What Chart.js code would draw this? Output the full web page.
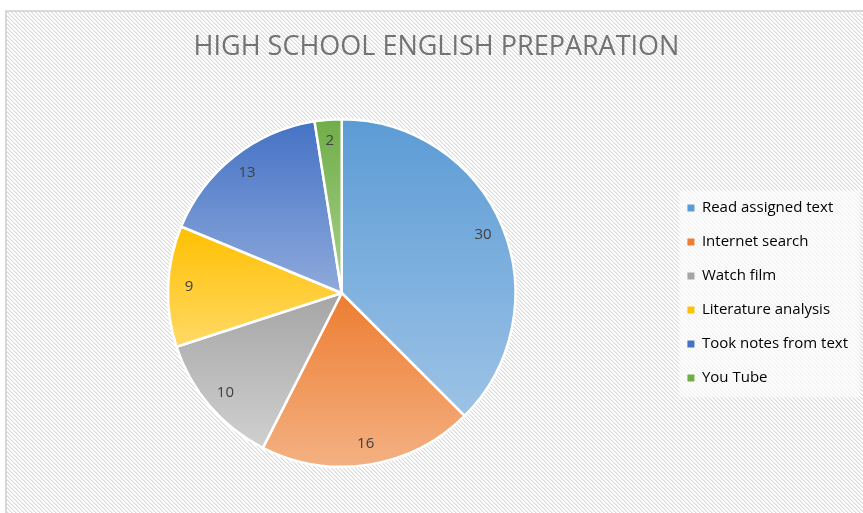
<!DOCTYPE html>
<html>
<head>
<meta charset="utf-8">
<script src="https://cdn.jsdelivr.net/npm/chart.js@4"></script>
<style>
  html, body { margin: 0; padding: 0; background: #fff; }
  #wrap {
    position: absolute; left: 5px; top: 10px; width: 870px; height: 520px;
    border: 2px solid #d9d9d9; box-sizing: border-box; background-color: #fff;
  }
  #box { position: absolute; left: 0; top: 0; width: 863px; height: 513px; }
</style>
</head>
<body>
<div id="wrap"></div>
<div id="box"><canvas id="pie" width="863" height="513"></canvas></div>
<script>
// chart data
var labels = ['Read assigned text', 'Internet search', 'Watch film', 'Literature analysis', 'Took notes from text', 'You Tube'];
var values = [30, 16, 10, 9, 13, 2];
var topColors = ['#5B9BD5', '#ED7D31', '#A5A5A5', '#FFC000', '#4472C4', '#70AD47'];
var bottomColors = ['#9DC3E6', '#F4B183', '#D0D0D0', '#FFD966', '#8FAADC', '#A9D18E'];

var total = values.reduce(function (a, b) { return a + b; }, 0);

// fine diagonal hatch for the chart background
var tile = document.createElement('canvas');
tile.width = 4; tile.height = 4;
var tctx = tile.getContext('2d');
tctx.fillStyle = '#ffffff';
tctx.fillRect(0, 0, 4, 4);
for (var p = 0; p < 4; p++) {
  tctx.fillStyle = '#dadada';
  tctx.fillRect(p, p, 1, 1);
  tctx.fillStyle = '#eeeeee';
  tctx.fillRect((p + 1) % 4, p, 1, 1);
}
document.getElementById('wrap').style.backgroundImage = 'url(' + tile.toDataURL() + ')';

// vertical gradient over each slice, darker at its top
function sliceFill(context) {
  var chart = context.chart;
  var area = chart.chartArea;
  var i = context.dataIndex;
  if (!area || i === undefined) return topColors[i || 0];
  var cx = (area.left + area.right) / 2;
  var cy = (area.top + area.bottom) / 2;
  var r = Math.min(area.right - area.left, area.bottom - area.top) / 2;
  var before = 0;
  for (var k = 0; k < i; k++) before += values[k];
  var a0 = -Math.PI / 2 + before / total * Math.PI * 2;
  var a1 = a0 + values[i] / total * Math.PI * 2;
  var ys = [cy, cy + r * Math.sin(a0), cy + r * Math.sin(a1)];
  [Math.PI / 2, -Math.PI / 2, Math.PI * 1.5].forEach(function (a) {
    if (a > a0 && a < a1) ys.push(cy + r * Math.sin(a));
  });
  var top = Math.min.apply(null, ys), bottom = Math.max.apply(null, ys);
  var g = chart.ctx.createLinearGradient(0, top, 0, bottom);
  g.addColorStop(0, topColors[i]);
  g.addColorStop(1, bottomColors[i]);
  return g;
}

// faint white panel behind the legend items
var legendPanel = {
  id: 'legendPanel',
  beforeDraw: function (chart) {
    var boxes = chart.legend.legendHitBoxes;
    if (!boxes || !boxes.length) return;
    var x0 = boxes[0].left - 8, y0 = boxes[0].top - 10;
    var last = boxes[boxes.length - 1];
    var c = chart.ctx;
    c.save();
    c.fillStyle = 'rgba(255,255,255,0.6)';
    c.fillRect(x0, y0, chart.width - x0 - 3, last.top + last.height + 12 - y0);
    c.restore();
  }
};

// value labels inside the slices
var sliceLabels = {
  id: 'sliceLabels',
  afterDatasetsDraw: function (chart) {
    var c = chart.ctx;
    var meta = chart.getDatasetMeta(0);
    c.save();
    c.font = '15px "Open Sans"';
    c.fillStyle = '#404040';
    c.textAlign = 'center';
    c.textBaseline = 'middle';
    meta.data.forEach(function (arc, i) {
      var mid = (arc.startAngle + arc.endAngle) / 2;
      var rr = arc.outerRadius * 0.88;
      c.fillText(values[i], arc.x + Math.cos(mid) * rr, arc.y + Math.sin(mid) * rr);
    });
    c.restore();
  }
};

var ctx = document.getElementById('pie').getContext('2d');
var myChart = new Chart(ctx, {
  type: 'pie',
  data: {
    labels: labels,
    datasets: [{
      data: values,
      backgroundColor: sliceFill,
      borderColor: '#ffffff',
      borderWidth: 2.5
    }]
  },
  options: {
    responsive: false,
    animation: false,
    layout: { padding: { left: 15, right: 5, top: 0, bottom: 45 } },
    plugins: {
      tooltip: { enabled: false },
      title: {
        display: true,
        text: 'HIGH SCHOOL ENGLISH PREPARATION',
        color: '#737373',
        font: { family: '"Open Sans"', size: 27, weight: 'normal' },
        padding: { top: 31, bottom: 54.6 }
      },
      legend: {
        position: 'right',
        align: 'center',
        fullSize: false,
        labels: {
          color: '#595959',
          font: { family: '"Open Sans"', size: 15 },
          boxWidth: 7,
          boxHeight: 7,
          padding: 19,
          generateLabels: function (chart) {
            return labels.map(function (t, i) {
              return { text: t, fillStyle: topColors[i], strokeStyle: topColors[i], lineWidth: 0, index: i };
            });
          }
        }
      }
    }
  },
  plugins: [legendPanel, sliceLabels]
});
</script>
</body>
</html>
